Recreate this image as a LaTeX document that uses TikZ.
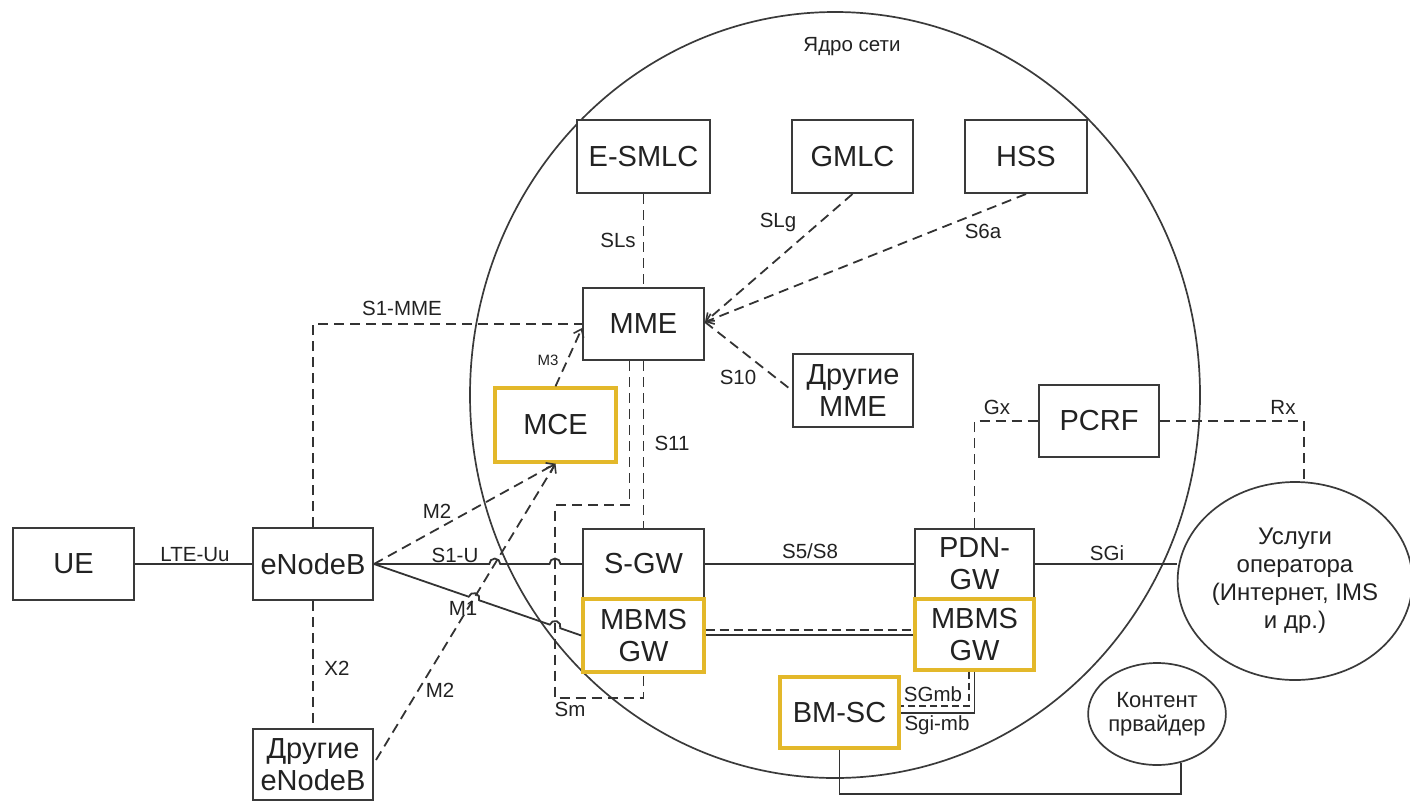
\documentclass[tikz,border=0pt]{standalone}
\usepackage{fontspec}
\setmainfont{Liberation Sans}
\usetikzlibrary{arrows.meta,calc,shapes.geometric}
\definecolor{ln}{HTML}{333333}
\definecolor{bx}{HTML}{3A3A3A}
\definecolor{gold}{HTML}{E3B82A}
\definecolor{tx}{HTML}{222222}
\begin{document}
\begin{tikzpicture}[x=1pt,y=1pt,
  box/.style={draw=bx,line width=2pt,fill=white,inner sep=0pt,align=center,text=tx,font=\fontsize{29}{32}\selectfont},
  ybox/.style={box,draw=gold,line width=3.4pt},
  oval/.style={draw=bx,line width=1.7pt,ellipse,fill=white,inner sep=0pt,align=center,text=tx},
  lab/.style={text=tx,font=\fontsize{20.5}{24}\selectfont,inner sep=0pt},
  conn/.style={draw=ln,line width=1.8pt},
  dsh/.style={conn,dash pattern=on 10pt off 6pt},
  arr/.style={-{Straight Barb[length=7pt,width=11pt,line width=1.6pt]}},
]
\useasboundingbox (0,0) rectangle (1410,-801);

% core network circle
\draw[bx,line width=1.7pt] (835,-395) ellipse[x radius=365,y radius=383];
\node[lab] (core) at (852,-47) {Ядро сети};

% nodes
\node[box,minimum width=121pt,minimum height=72pt] (ue) at (73.5,-564) {UE};
\node[box,minimum width=120pt,minimum height=72pt] (enb) at (313,-564) {eNodeB};
\node[box,minimum width=120pt,minimum height=71pt] (oenb) at (313,-764.5) {Другие\\eNodeB};
\node[box,minimum width=133pt,minimum height=73pt] (esmlc) at (643.5,-156.5) {E-SMLC};
\node[box,minimum width=121pt,minimum height=73pt] (gmlc) at (852.5,-156.5) {GMLC};
\node[box,minimum width=122pt,minimum height=73pt] (hss) at (1026,-156.5) {HSS};
\node[box,minimum width=121pt,minimum height=72pt] (mme) at (643.5,-324) {MME};
\node[ybox,minimum width=121pt,minimum height=74pt] (mce) at (555.5,-425) {MCE};
\node[box,minimum width=120pt,minimum height=73pt] (omme) at (853,-390.5) {Другие\\MME};
\node[box,minimum width=120pt,minimum height=72pt] (pcrf) at (1099,-421) {PCRF};
\node[box,minimum width=121pt,minimum height=70pt] (sgw) at (643.5,-564) {S-GW};
\node[ybox,minimum width=121pt,minimum height=73pt] (mbms1) at (643.5,-635.5) {MBMS\\GW};
\node[box,minimum width=119pt,minimum height=70pt] (pdn) at (974.5,-564) {PDN-\\GW};
\node[ybox,minimum width=119pt,minimum height=71pt] (mbms2) at (974.5,-634.5) {MBMS\\GW};
\node[ybox,minimum width=119pt,minimum height=71pt] (bmsc) at (839.5,-712.5) {BM-SC};
\node[oval,minimum width=220pt,minimum height=198pt,font=\fontsize{24}{28}\selectfont] (serv) at (1295,-581) {Услуги\\оператора\\(Интернет, IMS\\и др.)};
\node[oval,minimum width=118pt,minimum height=102pt,font=\fontsize{22}{24}\selectfont] (content) at (1157,-714) {Контент\\првайдер};

% helper coordinates
\coordinate (enbE) at (enb.east);
\coordinate (sgwW) at (sgw.west);
\coordinate (mbW) at (mbms1.west);
\coordinate (mceS) at (mce.south);
\coordinate (m2l) at ($(oenb.east)+(2,4.5)$);
\coordinate (smT) at ($(mme.south)+(-14,0)$);
\coordinate (smA) at (555,-505);
\coordinate (smB) at (555,-698);
\coordinate (mmeR) at ($(mme.east)+(0,2)$);
\coordinate (mmeM3) at ($(mme.west)+(0,-4)$);
\coordinate (hA) at (intersection of enbE--sgwW and m2l--mceS);
\coordinate (hB) at (intersection of enbE--sgwW and smA--smB);
\coordinate (hC) at (intersection of enbE--mbW and m2l--mceS);
\coordinate (hD) at (intersection of enbE--mbW and smA--smB);

% connectors
\draw[conn] (ue.east) -- (enb.west);
\draw[dsh] (enb.north) |- (mme.west);
\draw[dsh] (enb.south) -- (oenb.north);
\draw[dsh] (esmlc.south) -- (mme.north);
\draw[dsh,arr] (gmlc.south) -- (mmeR);
\draw[dsh,arr] (hss.south) -- (mmeR);
\draw[dsh] (mmeR) -- (omme.west);
\draw[dsh,arr] (mce.north) -- (mmeM3);
\draw[dsh] (mme.south) -- (sgw.north);
\draw[dsh] (smT) |- (smA) -- (smB) -| (mbms1.south);
\draw[dsh,arr] (enbE) -- (mceS);
\draw[dsh,arr] (m2l) -- (mceS);
\draw[conn] (enbE) -- ($(hA)!5.5pt!(enbE)$) arc[start angle=180,end angle=0,radius=5.5pt]
  -- ($(hB)!5.5pt!(enbE)$) arc[start angle=180,end angle=0,radius=5.5pt] -- (sgwW);
\draw[conn] (enbE) -- ($(hC)!5.5pt!(enbE)$) arc[start angle=161.2,end angle=-18.8,radius=5.5pt]
  -- ($(hD)!5.5pt!(enbE)$) arc[start angle=161.2,end angle=-18.8,radius=5.5pt] -- (mbW);
\draw[conn] (sgw.east) -- (pdn.west);
\draw[conn,line width=2.2pt] (mbms1.east |- 0,-635) -- (mbms2.west |- 0,-635);
\draw[dsh,line width=2pt,dash pattern=on 9pt off 5pt] (mbms1.east |- 0,-630) -- (mbms2.west |- 0,-630);
\draw[conn] (pdn.east) -- (pdn.east -| serv.west);
\draw[dsh] (pdn.north) |- (pcrf.west);
\draw[dsh] (pcrf.east) -| (serv.85);
\draw[dsh,dash pattern=on 7pt off 4pt] ($(mbms2.south)+(-5.5,0)$) |- (bmsc.east |- 0,-706);
\draw[conn] (mbms2.south) |- (bmsc.east |- 0,-713);
\draw[conn] (bmsc.south) -- ++(0,-44) -| (content.-64);

% labels
\node[lab] (lLTE) at (195,-555) {LTE-Uu};
\node[lab] (lS1MME) at (402,-308) {S1-MME};
\node[lab] (lSLs) at (618,-240) {SLs};
\node[lab] (lSLg) at (778,-222) {SLg};
\node[lab] (lS6a) at (983,-231) {S6a};
\node[lab,font=\fontsize{15}{18}\selectfont] (lM3) at (548,-360) {M3};
\node[lab] (lS10) at (738,-377) {S10};
\node[lab] (lS11) at (672,-443) {S11};
\node[lab] (lM2a) at (437,-511) {M2};
\node[lab] (lS1U) at (455,-555) {S1-U};
\node[lab] (lM1) at (463,-608) {M1};
\node[lab] (lX2) at (337,-668) {X2};
\node[lab] (lM2b) at (440,-690) {M2};
\node[lab] (lSm) at (570,-709) {Sm};
\node[lab] (lS5) at (810,-551) {S5/S8};
\node[lab] (lSGi) at (1107,-553) {SGi};
\node[lab] (lGx) at (997,-407) {Gx};
\node[lab] (lRx) at (1283,-407) {Rx};
\node[lab] (lSGmb) at (933,-694) {SGmb};
\node[lab] (lSgimb) at (937,-725) {Sgi-mb};
\end{tikzpicture}
\end{document}
